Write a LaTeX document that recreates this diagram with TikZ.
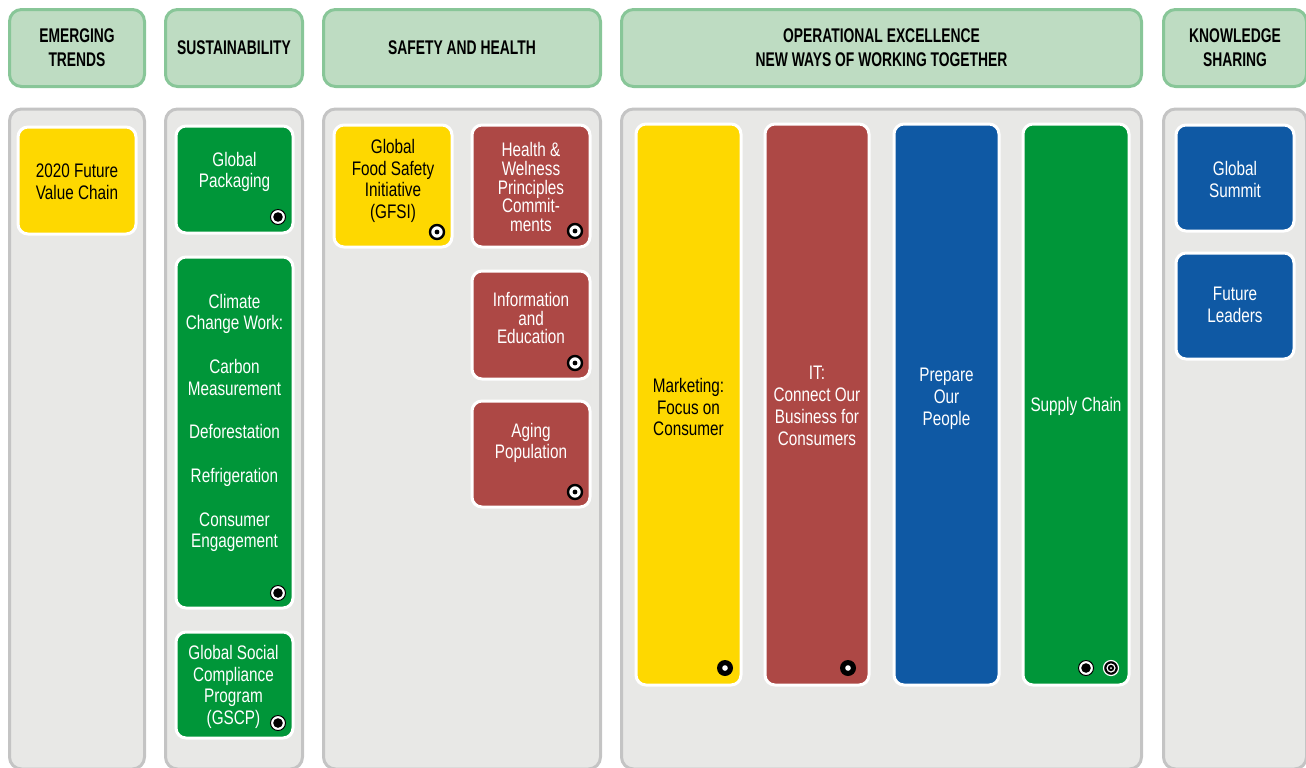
\documentclass[tikz,border=0pt]{standalone}
\usepackage{fontspec}
\setmainfont[FakeStretch=0.78]{Liberation Sans}
\newfontfamily\headfont[FakeStretch=0.7]{Liberation Sans}
\definecolor{headfill}{HTML}{BEDCC2}
\definecolor{headline}{HTML}{88C698}
\definecolor{lanefill}{HTML}{E8E8E6}
\definecolor{laneline}{HTML}{C4C4C4}
\definecolor{cyellow}{HTML}{FED800}
\definecolor{cgreen}{HTML}{009639}
\definecolor{cred}{HTML}{AD4845}
\definecolor{cblue}{HTML}{0F59A4}

\begin{document}
\begin{tikzpicture}[x=0.5pt, y=-0.5pt]
        \tikzstyle{head}=[draw=headline, fill=headfill, line width=1.5pt, rounded corners=6pt, inner sep=0pt, minimum height=38.5pt, align=center, font=\headfont\bfseries\fontsize{9.9}{12}\selectfont]
        \tikzstyle{lane}=[draw=laneline, fill=lanefill, line width=1.5pt, rounded corners=6pt, inner sep=0pt, minimum height=330pt]
        \tikzstyle{card}=[draw=white, line width=1.5pt, rounded corners=5pt, inner sep=0pt]
        \tikzstyle{txt}=[align=center, inner sep=0pt, text=white, font=\fontsize{9.8}{10.9}\selectfont]
        \tikzstyle{tight}=[font=\fontsize{9.8}{9.3}\selectfont]
        \tikzstyle{dotfull}=[circle, draw=black, line width=0.5pt, fill=white, minimum size=7.5pt, inner sep=0pt, path picture={\fill[black] (path picture bounding box.center) circle (2.4pt);}]
        \tikzstyle{dotring}=[circle, draw=black, line width=1.2pt, fill=white, minimum size=7pt, inner sep=0pt, path picture={\fill[black] (path picture bounding box.center) circle (1.2pt);}]
        \tikzstyle{dotbold}=[circle, fill=black, minimum size=8pt, inner sep=0pt, path picture={\fill[white] (path picture bounding box.center) circle (1.4pt);}]
        \tikzstyle{dottarget}=[circle, draw=white, line width=0.6pt, fill=black, minimum size=7.5pt, inner sep=0pt, path picture={\fill[white] (path picture bounding box.center) circle (2.3pt); \fill[black] (path picture bounding box.center) circle (1.6pt); \fill[white] (path picture bounding box.center) circle (0.5pt);}]
        \useasboundingbox (0,0) rectangle (1306,767);
        \clip (0,0) rectangle (1306,767);
        % headers
        \node [head, minimum width=67.5pt] (hemerg) at (77,48) {EMERGING\\TRENDS};
        \node [head, minimum width=68.5pt] (hsust) at (234,48) {SUSTAINABILITY};
        \node [head, minimum width=138.5pt] (hsafe) at (462,48) {SAFETY AND HEALTH};
        \node [head, minimum width=260pt] (hopex) at (881.5,48) {OPERATIONAL EXCELLENCE\\NEW WAYS OF WORKING TOGETHER};
        \node [head, minimum width=71.5pt] (hknow) at (1235,48) {KNOWLEDGE\\SHARING};
        % lanes
        \node [lane, minimum width=67.5pt] (lemerg) at (77,439) {};
        \node [lane, minimum width=68.5pt] (lsust) at (234,439) {};
        \node [lane, minimum width=138.5pt] (lsafe) at (462,439) {};
        \node [lane, minimum width=260pt] (lopex) at (881.5,439) {};
        \node [lane, minimum width=71.5pt] (lknow) at (1235,439) {};
        % emerging trends
        \node [card, fill=cyellow, minimum width=59pt, minimum height=53.5pt] (fvc) at (77,180.5) {};
        \node [txt, text=black] (fvct) at (77,182) {2020 Future\\Value Chain};
        % sustainability
        \node [card, fill=cgreen, minimum width=58.5pt, minimum height=53.5pt] (gpack) at (234.5,179.5) {};
        \node [txt] (gpackt) at (234.5,172) {Global\\Packaging};
        \node [dotfull] (gpackm) at (278,217) {};
        \node [card, fill=cgreen, minimum width=58.5pt, minimum height=175.5pt] (climate) at (234.5,432.5) {};
        \node [txt] (climatet) at (234.5,423) {Climate\\Change Work:\\[10.9pt]Carbon\\Measurement\\[10.9pt]Deforestation\\[10.9pt]Refrigeration\\[10.9pt]Consumer\\Engagement};
        \node [dotfull] (climatem) at (278,593) {};
        \node [card, fill=cgreen, minimum width=58.5pt, minimum height=53pt] (gscp) at (234.5,685) {};
        \node [txt] (gscpt) at (233.5,687) {Global Social\\Compliance\\Program\\(GSCP)};
        \node [dotfull] (gscpm) at (278,723) {};
        % safety and health
        \node [card, fill=cyellow, minimum width=59pt, minimum height=61pt] (gfsi) at (393,186) {};
        \node [txt, text=black] (gfsit) at (393,181) {Global\\Food Safety\\Initiative\\(GFSI)};
        \node [dotring] (gfsim) at (437,232) {};
        \node [card, fill=cred, minimum width=59pt, minimum height=61pt] (health) at (531,186) {};
        \node [txt, tight] (healtht) at (531,187) {Health \&\\Welness\\Principles\\Commit-\\ments};
        \node [dotring] (healthm) at (575,231) {};
        \node [card, fill=cred, minimum width=59pt, minimum height=54pt] (info) at (531,325) {};
        \node [txt, tight] (infot) at (531,318) {Information\\and\\Education};
        \node [dotring] (infom) at (575,363) {};
        \node [card, fill=cred, minimum width=59pt, minimum height=53pt] (aging) at (531,454) {};
        \node [txt] (agingt) at (531,443) {Aging\\Population};
        \node [dotring] (agingm) at (575,492) {};
        % operational excellence
        \node [card, fill=cyellow, minimum width=52.5pt, minimum height=280.5pt] (mkt) at (688.5,404.5) {};
        \node [txt, text=black] (mktt) at (688.5,407) {Marketing:\\Focus on\\Consumer};
        \node [dotbold] (mktm) at (725,668) {};
        \node [card, fill=cred, minimum width=52pt, minimum height=280.5pt] (it) at (817,404.5) {};
        \node [txt] (itt) at (817,406) {IT:\\Connect Our\\Business for\\Consumers};
        \node [dotbold] (itm) at (848,668) {};
        \node [card, fill=cblue, minimum width=52.5pt, minimum height=280.5pt] (prep) at (946.5,404.5) {};
        \node [txt] (prept) at (946.5,399) {Prepare\\Our\\People};
        \node [card, fill=cgreen, minimum width=53pt, minimum height=280.5pt] (supply) at (1076,404.5) {};
        \node [txt] (supplyt) at (1076,406) {Supply Chain};
        \node [dotfull] (supplym) at (1086,668) {};
        \node [dottarget] (supplyn) at (1111,668) {};
        % knowledge sharing
        \node [card, fill=cblue, minimum width=59pt, minimum height=53pt] (summit) at (1235,178) {};
        \node [txt] (summitt) at (1235,179.5) {Global\\Summit};
        \node [card, fill=cblue, minimum width=59pt, minimum height=53pt] (leaders) at (1235,306) {};
        \node [txt] (leaderst) at (1235,305) {Future\\Leaders};
    \end{tikzpicture}
\end{document}
